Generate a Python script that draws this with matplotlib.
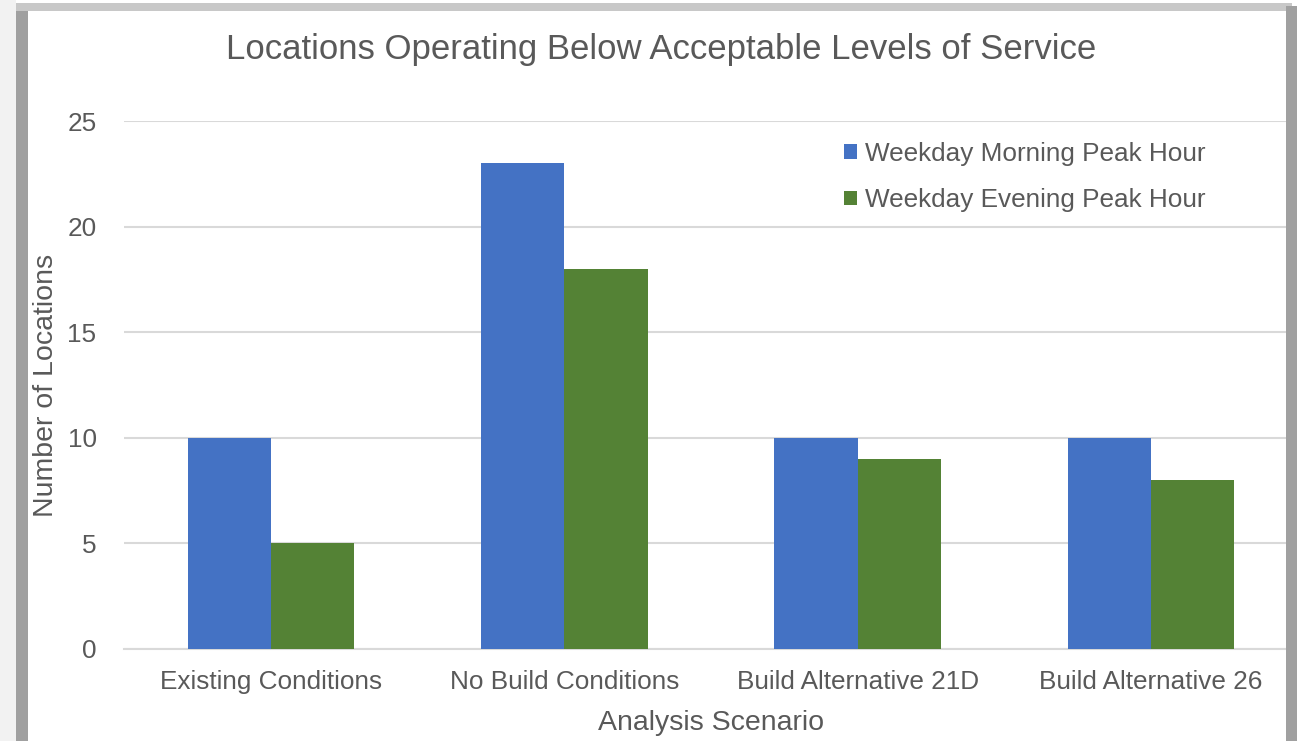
import numpy as np
import matplotlib
matplotlib.use('agg')
from matplotlib import pyplot as plt
import matplotlib.patches as mpatches

# chart data
scenarios = ['Existing Conditions', 'No Build Conditions', 'Build Alternative 21D', 'Build Alternative 26']
morning = [10, 23, 10, 10]
evening = [5, 18, 9, 8]
series_names = ['Weekday Morning Peak Hour', 'Weekday Evening Peak Hour']

blue = '#4472C4'
green = '#548235'
text_color = '#595959'
grid_color = '#D9D9D9'

plt.rcParams['font.family'] = ['Liberation Sans', 'DejaVu Sans']

W, H = 1297, 741
fig = plt.figure(figsize=(W / 100, H / 100), dpi=100)
fig.patch.set_facecolor('white')

ax = fig.add_axes([124.3 / W, 92 / H, 1173.4 / W, 528 / H])
ax.set_facecolor('none')

x = np.arange(len(scenarios))
width = 0.284
ax.bar(x - width / 2, morning, width, color=blue, label=series_names[0], zorder=3)
ax.bar(x + width / 2, evening, width, color=green, label=series_names[1], zorder=3)

ax.set_xlim(-0.5, len(scenarios) - 0.5)
ax.set_ylim(0, 25)
ax.set_yticks([0, 5, 10, 15, 20, 25])
ax.set_xticks(x)
ax.set_xticklabels(scenarios)
ax.grid(axis='y', color=grid_color, linewidth=1.5, zorder=0)
ax.grid(axis='x', visible=False)
for s in ['top', 'right', 'left']:
    ax.spines[s].set_visible(False)
ax.spines['bottom'].set_color(grid_color)
ax.spines['bottom'].set_linewidth(1.5)
ax.tick_params(axis='both', length=0, labelsize=18.8, colors=text_color)
ax.tick_params(axis='x', pad=15)
ax.tick_params(axis='y', pad=20)

ax.set_xlabel('Analysis Scenario', fontsize=20.5, color=text_color, labelpad=12)
fig.text(46 / W, 1 - 385 / H, 'Number of Locations', rotation=90, fontsize=20.5,
         color=text_color, ha='center', va='center')
fig.text(661 / W, 1 - 49 / H, 'Locations Operating Below Acceptable Levels of Service',
         fontsize=25, color=text_color, ha='center', va='center')

leg = ax.legend(loc='upper left', bbox_to_anchor=(831 / W, 1 - 129 / H),
                bbox_transform=fig.transFigure, frameon=False, fontsize=18.8,
                handlelength=0.5, handleheight=0.5, handletextpad=0.3,
                labelspacing=0.85, borderpad=0)
for t in leg.get_texts():
    t.set_color(text_color)

# panel shadow around the chart
shade = '#A0A0A0'
fig.patches.append(mpatches.Rectangle((0, 0), 16 / W, 1, transform=fig.transFigure,
                                      facecolor='#F2F2F2', edgecolor='none', zorder=5))
fig.patches.append(mpatches.Rectangle((16 / W, 0), 12 / W, 1 - 6 / H, transform=fig.transFigure,
                                      facecolor=shade, edgecolor='none', zorder=5))
fig.patches.append(mpatches.Rectangle((16 / W, 1 - 11 / H), 1276 / W, 8 / H, transform=fig.transFigure,
                                      facecolor='#C8C8C8', edgecolor='none', zorder=5))
fig.patches.append(mpatches.Rectangle((1286 / W, 0), 11 / W, 1 - 6 / H, transform=fig.transFigure,
                                      facecolor=shade, edgecolor='none', zorder=5))

fig.savefig('out.png', dpi=100, facecolor=fig.get_facecolor())
